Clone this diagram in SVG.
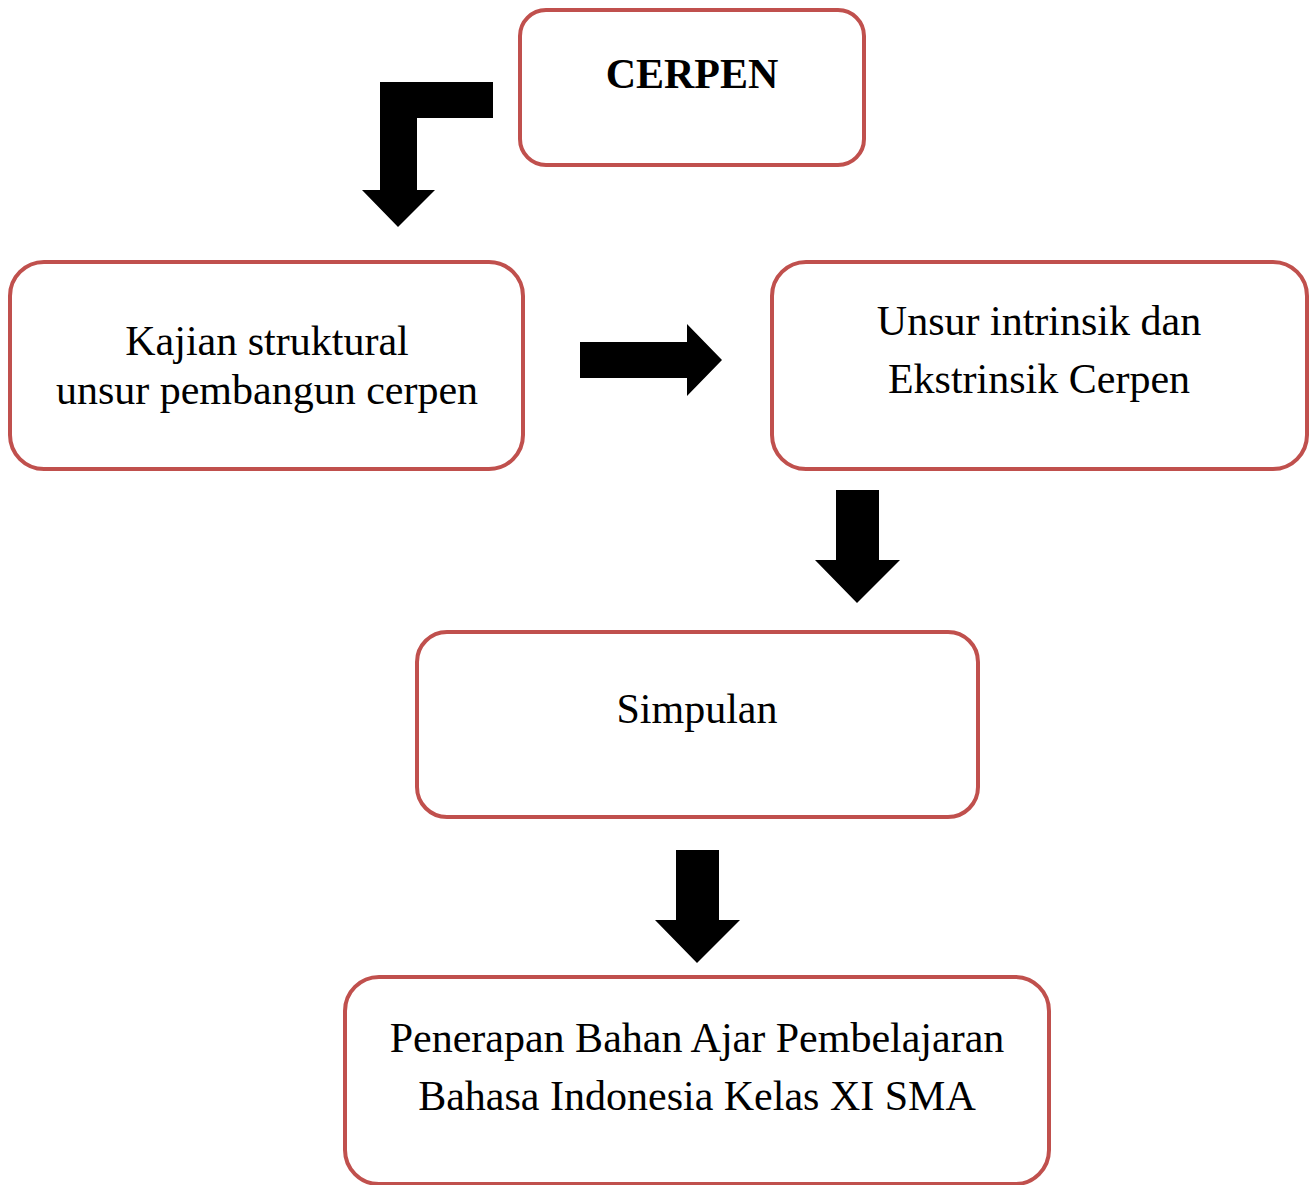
<svg xmlns="http://www.w3.org/2000/svg" width="1312" height="1185" viewBox="0 0 1312 1185">
<style>
.box{fill:#fff;stroke:#C0504D;stroke-width:4}
.t{font-family:"Liberation Serif","Times New Roman",serif;font-size:42px;fill:#000;text-anchor:middle}
.b{font-weight:bold}
.arr{fill:#000}
</style>
<rect width="1312" height="1185" fill="#fff"/>
<g id="connectors">
<path class="arr" d="M493,82 L493,118 L417,118 L417,190 L435,190 L398,227 L362,190 L380,190 L380,82 Z"/>
<path class="arr" d="M580,342 L687,342 L687,324 L722,360 L687,396 L687,378 L580,378 Z"/>
<path class="arr" d="M836,490 L879,490 L879,560 L900,560 L857,603 L815,560 L836,560 Z"/>
<path class="arr" d="M676,850 L719,850 L719,920 L740,920 L697,963 L655,920 L676,920 Z"/>
</g>
<g id="cerpen">
<rect class="box" x="520" y="10" width="344" height="155" rx="26"/>
<text class="t b" x="692" y="88">CERPEN</text>
</g>
<g id="kajian">
<rect class="box" x="10" y="262" width="513" height="207" rx="34"/>
<text class="t" x="267" y="355">Kajian struktural</text>
<text class="t" x="267" y="404">unsur pembangun cerpen</text>
</g>
<g id="unsur">
<rect class="box" x="772" y="262" width="535" height="207" rx="34"/>
<text class="t" x="1039" y="335">Unsur intrinsik dan</text>
<text class="t" x="1039" y="393">Ekstrinsik Cerpen</text>
</g>
<g id="simpulan">
<rect class="box" x="417" y="632" width="561" height="185" rx="30"/>
<text class="t" x="697" y="723">Simpulan</text>
</g>
<g id="penerapan">
<rect class="box" x="345" y="977" width="704" height="207" rx="34"/>
<text class="t" x="697" y="1052">Penerapan Bahan Ajar Pembelajaran</text>
<text class="t" x="697" y="1110">Bahasa Indonesia Kelas XI SMA</text>
</g>
</svg>
